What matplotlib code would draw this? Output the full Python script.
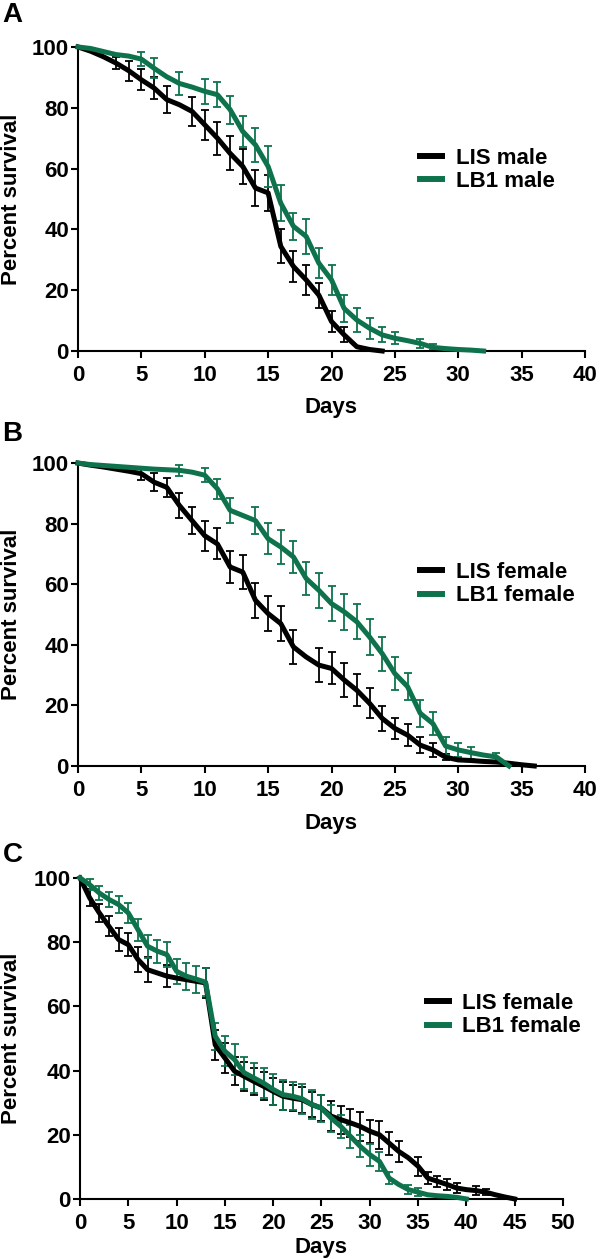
import numpy as np
import matplotlib
matplotlib.use("Agg")
import matplotlib.pyplot as plt

plt.rcParams['font.family'] = ['Liberation Sans', 'DejaVu Sans']
plt.rcParams['font.weight'] = 'bold'

BLACK = '#000000'
GREEN = '#0e734c'

# Panel A - males
a_lis_days = list(range(0, 25))
a_lis_surv = [100, 98.6, 96.8, 94.7, 92.2, 89.2, 86.5, 82.7, 81.0, 78.8, 74.4, 70.0, 65.0,
              60.7, 53.6, 52.0, 34.4, 27.8, 23.4, 18.4, 9.7, 5.3, 1.4, 0.5, 0]
a_lis_err = [0, 0, 0, 2.0, 3.3, 3.4, 3.6, 4.4, 0, 4.8, 5.0, 5.4, 5.6,
             5.8, 5.8, 6.0, 5.6, 5.2, 5.0, 4.1, 3.4, 2.5, 0, 0, 0]
a_lb1_days = list(range(0, 33))
a_lb1_surv = [100, 99.5, 98.5, 97.5, 97.0, 96.0, 93.0, 90.2, 88.0, 86.8, 85.4, 84.3, 79.4,
              72.2, 67.8, 60.7, 48.6, 41.0, 37.7, 28.9, 23.4, 14.0, 10.2, 7.5, 5.3, 4.2,
              3.4, 2.5, 1.2, 0.8, 0.5, 0.3, 0]
a_lb1_err = [0, 0, 0, 0, 0, 2.4, 3.3, 0, 3.8, 0, 4.0, 4.1, 4.6, 5.0, 5.5, 6.6, 6.0, 4.5,
             5.8, 5.0, 5.0, 4.4, 3.8, 3.5, 2.5, 1.9, 0, 1.6, 1.0, 0, 0, 0, 0]

# Panel B - females
b_lis_days = list(range(0, 37))
b_lis_surv = [100, 99.3, 98.7, 98.0, 97.3, 96.5, 93.7, 92.0, 86.0, 81.0, 76.0, 73.3, 65.7,
              64.0, 54.7, 50.3, 47.0, 39.3, 36.0, 33.3, 32.2, 28.4, 25.0, 20.7, 15.7, 12.4,
              10.2, 6.9, 5.3, 2.9, 2.0, 1.8, 1.5, 1.3, 0.9, 0.4, 0]
b_lis_err = [0, 0, 0, 0, 0, 2.0, 3.0, 3.2, 4.1, 4.5, 4.9, 5.1, 5.3, 5.5, 5.7, 5.9, 5.7, 5.7,
             0, 5.5, 5.3, 5.5, 5.3, 5.0, 4.0, 3.4, 3.5, 2.7, 2.4, 1.0, 0, 0, 0, 0, 0, 0, 0]
b_lb1_days = list(range(0, 35))
b_lb1_surv = [100, 99.5, 99.2, 98.9, 98.6, 98.3, 98.0, 97.8, 97.6, 97.0, 96.0, 91.5, 84.4,
              82.7, 81.0, 75.0, 72.3, 69.0, 61.9, 58.0, 53.6, 50.9, 47.6, 42.6, 37.1, 30.5,
              26.2, 17.4, 14.0, 6.6, 5.3, 4.4, 3.6, 3.0, 0]
b_lb1_err = [0, 0, 0, 0, 0, 0, 0, 0, 1.8, 0, 2.3, 3.2, 4.2, 0, 4.5, 5.1, 5.5, 5.3, 5.6, 5.7,
             5.8, 5.9, 5.8, 5.9, 5.6, 5.5, 4.5, 4.5, 3.7, 3.0, 2.3, 2.0, 0, 1.3, 0]

# Panel C - females, second experiment
c_lis_days = list(range(0, 46))
c_lis_surv = [100, 93.8, 89.1, 84.9, 80.8, 79.2, 74.6, 71.4, 70.4, 69.4, 68.8, 68.3, 67.8,
              67.3, 48.0, 43.9, 39.8, 38.2, 36.6, 35.1, 33.5, 32.0, 31.4, 30.9, 29.4, 28.3,
              25.8, 24.7, 23.7, 22.6, 21.1, 20.0, 17.4, 14.8, 12.8, 10.2, 6.5, 5.5, 4.5,
              3.4, 2.9, 2.6, 2.1, 1.3, 0.6, 0]
c_lis_err = [0, 2.6, 2.9, 3.1, 3.5, 3.6, 3.9, 3.9, 0, 3.5, 0, 0, 0, 4.7, 4.7, 4.7, 4.3, 4.5,
             4.3, 4.3, 4.3, 4.3, 4.0, 4.0, 4.0, 4.0, 4.7, 4.4, 4.4, 4.4, 3.6, 4.3, 3.6, 3.4,
             0, 2.9, 1.8, 1.8, 1.8, 1.6, 0, 1.3, 1.0, 0, 0, 0]
c_lb1_days = list(range(0, 41))
c_lb1_surv = [100, 97.9, 95.3, 93.3, 91.7, 89.1, 83.9, 78.7, 77.2, 76.1, 70.9, 69.4, 68.5,
              67.5, 50.7, 46.0, 43.4, 39.3, 37.7, 36.1, 34.1, 32.5, 32.0, 31.2, 29.4, 28.3,
              25.2, 22.6, 19.5, 16.4, 13.8, 11.7, 6.5, 4.5, 2.9, 2.1, 1.3, 1.0, 0.8, 0.5, 0]
c_lb1_err = [0, 1.8, 2.3, 2.3, 2.6, 3.2, 3.4, 3.6, 3.6, 3.9, 3.9, 4.2, 4.2, 4.4, 4.2, 4.7,
             4.9, 4.9, 4.7, 4.8, 4.7, 4.7, 4.4, 4.7, 4.6, 4.2, 4.2, 3.6, 3.6, 3.4, 3.4, 2.9,
             1.8, 0, 1.4, 1.2, 0, 0, 0, 0, 0]

x_ticks_ab = list(range(0, 45, 5))
x_ticks_c = list(range(0, 55, 5))
y_ticks = list(range(0, 120, 20))


def draw_panel(ax, series, xmax, xticks, legend_xy, ylab_x, xlab_y):
    lines = []
    for days, surv, err, color, label in series:
        days = np.array(days)
        surv = np.array(surv)
        err = np.array(err)
        m = err > 0
        ax.errorbar(days[m], surv[m], yerr=err[m], fmt='none', ecolor=color,
                    elinewidth=1.3, capsize=3, capthick=1.3, clip_on=False, zorder=2)
        ln, = ax.plot(days, surv, color=color, lw=3.6, label=label, clip_on=False, zorder=3)
        lines.append(ln)
    ax.set_xlim(0, xmax)
    ax.set_ylim(0, 100)
    ax.set_xticks(xticks)
    ax.set_yticks(y_ticks)
    for s in ['top', 'right']:
        ax.spines[s].set_visible(False)
    for s in ['left', 'bottom']:
        ax.spines[s].set_linewidth(1.5)
    ax.tick_params(axis='both', labelsize=16, width=1.5, length=5)
    ax.tick_params(axis='x', pad=5)
    ax.tick_params(axis='y', pad=1.5)
    for lab in ax.get_xticklabels() + ax.get_yticklabels():
        lab.set_fontweight('bold')
    ax.set_ylabel('Percent survival', fontsize=16, fontweight='bold')
    ax.set_xlabel('Days', fontsize=16, fontweight='bold')
    ax.yaxis.set_label_coords(ylab_x, 0.5)
    ax.xaxis.set_label_coords(0.5, xlab_y)
    leg = ax.legend(handles=lines, loc='center left', bbox_to_anchor=legend_xy,
                    frameon=False, fontsize=16, handlelength=1.0, handletextpad=0.6,
                    labelspacing=0.1, borderpad=0, borderaxespad=0)
    for t in leg.get_texts():
        t.set_fontweight('bold')
    for h in leg.get_lines():
        h.set_linewidth(4.3)


fig = plt.figure(figsize=(6, 12.59), dpi=100)
ax_a = fig.add_axes([0.13, 0.7212, 0.845, 0.2415])
ax_b = fig.add_axes([0.13, 0.3916, 0.845, 0.2406])
ax_c = fig.add_axes([0.1333, 0.0477, 0.805, 0.255])

draw_panel(ax_a, [(a_lis_days, a_lis_surv, a_lis_err, BLACK, 'LIS male'),
                  (a_lb1_days, a_lb1_surv, a_lb1_err, GREEN, 'LB1 male')],
           40, x_ticks_ab, (0.675, 0.595), -0.11, -0.15)
draw_panel(ax_b, [(b_lis_days, b_lis_surv, b_lis_err, BLACK, 'LIS female'),
                  (b_lb1_days, b_lb1_surv, b_lb1_err, GREEN, 'LB1 female')],
           40, x_ticks_ab, (0.675, 0.60), -0.11, -0.155)
draw_panel(ax_c, [(c_lis_days, c_lis_surv, c_lis_err, BLACK, 'LIS female'),
                  (c_lb1_days, c_lb1_surv, c_lb1_err, GREEN, 'LB1 female')],
           50, x_ticks_c, (0.718, 0.572), -0.12, -0.118)

for letter, ypix in [('A', 2), ('B', 421), ('C', 842)]:
    fig.text(0.004, 1 - ypix / 1259, letter, fontsize=20, fontweight='bold',
             va='top', ha='left')

fig.savefig('out.png', dpi=100)
